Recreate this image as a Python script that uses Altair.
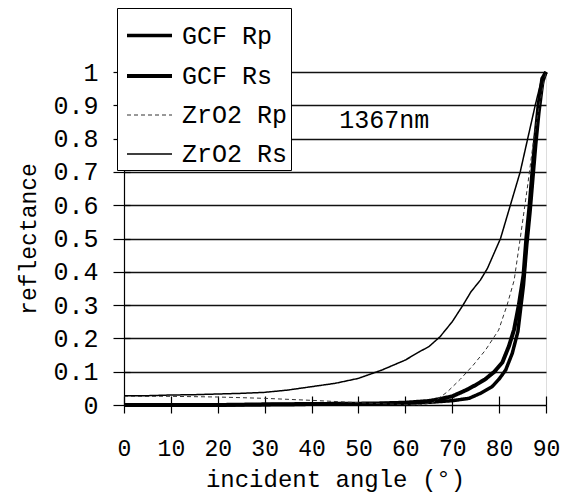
import altair as alt
import pandas as pd

series_names = ["GCF Rp", "GCF Rs", "ZrO2 Rp", "ZrO2 Rs"]

gcf_rp_angle = [0, 10, 20, 30, 40, 50, 55, 60, 65, 70, 73.6, 76, 78.5, 80, 81.4, 82.8, 84, 85.2, 85.9, 86.6, 87.2, 87.8, 88.5, 89.3, 90]
gcf_rp_value = [0.0, 0.0, 0.0, 0.001, 0.002, 0.003, 0.004, 0.005, 0.008, 0.013, 0.02, 0.035, 0.055, 0.078, 0.105, 0.155, 0.22, 0.36, 0.48, 0.58, 0.68, 0.78, 0.88, 0.97, 1.0]

gcf_rs_angle = [0, 10, 20, 30, 40, 50, 55, 60, 65, 67, 70, 73, 75, 77, 79, 80.7, 82.1, 83.2, 84.2, 85.2, 85.8, 86.5, 87.1, 87.7, 88.4, 89.2, 90]
gcf_rs_value = [0.0, 0.0, 0.0, 0.002, 0.003, 0.004, 0.005, 0.007, 0.012, 0.017, 0.026, 0.045, 0.06, 0.077, 0.10, 0.128, 0.177, 0.227, 0.30, 0.39, 0.50, 0.60, 0.70, 0.80, 0.90, 0.98, 1.0]

zro2_rp_angle = [0, 10, 20, 30, 40, 50, 55, 60, 63, 66, 69, 71.7, 74.5, 77.1, 79.9, 81.7, 83.2, 84.5, 86, 87.4, 88.7, 90]
zro2_rp_value = [0.027, 0.026, 0.024, 0.02, 0.014, 0.007, 0.004, 0.001, 0.0, 0.008, 0.04, 0.077, 0.12, 0.165, 0.225, 0.30, 0.374, 0.5, 0.65, 0.80, 0.91, 1.0]

zro2_rs_angle = [0, 5, 10, 15, 20, 25, 30, 35, 40, 45, 50, 55, 60, 63, 65, 67.4, 70, 72.3, 74, 76, 77.5, 80.3, 82.4, 84.5, 86.1, 87.7, 89.1, 90]
zro2_rs_value = [0.028, 0.028, 0.03, 0.031, 0.033, 0.035, 0.038, 0.045, 0.055, 0.065, 0.08, 0.105, 0.135, 0.16, 0.175, 0.205, 0.25, 0.30, 0.34, 0.375, 0.41, 0.50, 0.60, 0.70, 0.80, 0.90, 0.98, 1.0]

x_ticks = [0, 10, 20, 30, 40, 50, 60, 70, 80, 90]
y_ticks = [0, 0.1, 0.2, 0.3, 0.4, 0.5, 0.6, 0.7, 0.8, 0.9, 1.0]

note_text = ["1367nm"]
note_angle = [55.5]
note_value = [0.857]

rows = []
for name, angs, vals in [
    ("GCF Rp", gcf_rp_angle, gcf_rp_value),
    ("GCF Rs", gcf_rs_angle, gcf_rs_value),
    ("ZrO2 Rp", zro2_rp_angle, zro2_rp_value),
    ("ZrO2 Rs", zro2_rs_angle, zro2_rs_value),
]:
    for a, v in zip(angs, vals):
        rows.append({"series": name, "style": name, "angle": a, "R": v})
df = pd.DataFrame(rows)
notes = pd.DataFrame({"angle": note_angle, "R": note_value, "label": note_text})

FONT = "Liberation Mono"

x_scale = alt.Scale(domain=[0, 90], nice=False, zero=False)
y_scale = alt.Scale(domain=[0, 1], nice=False)

leg = alt.Legend(
    title=None, orient="none", legendX=-7, legendY=-64,
    fillColor="white", strokeColor="black", padding=3,
    symbolType="stroke", symbolSize=2025, symbolOpacity=1, symbolOffset=5,
    symbolDash=[1, 0],
    labelFont=FONT, labelFontSize=25, labelColor="black",
    rowPadding=2.5, labelOffset=8, labelExpr="datum.label + ' '",
)

lines = alt.Chart(df).mark_line(strokeCap="butt").encode(
    x=alt.X("angle:Q", scale=x_scale, axis=alt.Axis(
        values=x_ticks, grid=False, tickSize=8, tickColor="black", tickWidth=1.2,
        domainColor="black", domainWidth=1.2, labelFlush=False,
        labelFont=FONT, labelFontSize=23, labelColor="black", labelPadding=24,
        title="incident angle (°)", titleFont=FONT, titleFontSize=24,
        titleFontWeight="normal", titleColor="black", titlePadding=7)),
    y=alt.Y("R:Q", scale=y_scale, axis=alt.Axis(
        values=y_ticks, format="~g", grid=True, gridColor="#111111", gridWidth=1.5,
        tickSize=11, tickColor="black", tickWidth=1.2, labelFlush=False,
        domainColor="black", domainWidth=1.2,
        labelFont=FONT, labelFontSize=25, labelColor="black", labelPadding=15,
        title="reflectance", titleFont=FONT, titleFontSize=23,
        titleFontWeight="normal", titleColor="black", titlePadding=12)),
    color=alt.Color("series:N", scale=alt.Scale(domain=series_names,
                    range=["#000000", "#000000", "#333333", "#000000"]), legend=leg),
    strokeWidth=alt.StrokeWidth("series:N", scale=alt.Scale(type="ordinal", domain=series_names,
                    range=[3.5, 4.0, 1.0, 1.5]), legend=leg),
    strokeDash=alt.StrokeDash("style:N", scale=alt.Scale(domain=series_names,
                    range=[[1, 0], [1, 0], [4, 3], [1, 0]]), legend=None),
)

note = alt.Chart(notes).mark_text(font=FONT, fontSize=25, color="black",
                                  align="center", baseline="middle").encode(
    x=alt.X("angle:Q", scale=x_scale, axis=alt.Axis(
        orient="bottom", offset=-9, tickSize=9, tickColor="black", tickWidth=1.2,
        values=x_ticks, labels=False, domain=False, grid=False, title=None)),
    y=alt.Y("R:Q", scale=y_scale, axis=alt.Axis(
        orient="left", offset=-6, tickSize=6, tickColor="black", tickWidth=1.2,
        values=y_ticks, labels=False, domain=False, grid=False, title=None)),
    text="label:N",
)

chart = alt.layer(lines, note).resolve_axis(x="independent", y="independent").properties(
    width=422, height=333,
    autosize=alt.AutoSizeParams(type="none"),
    padding={"left": 116, "top": 64, "right": 15, "bottom": 90},
).configure_view(stroke=None).configure(background="white")

chart.save("out.html", embed_options={"renderer": "svg", "actions": False})
